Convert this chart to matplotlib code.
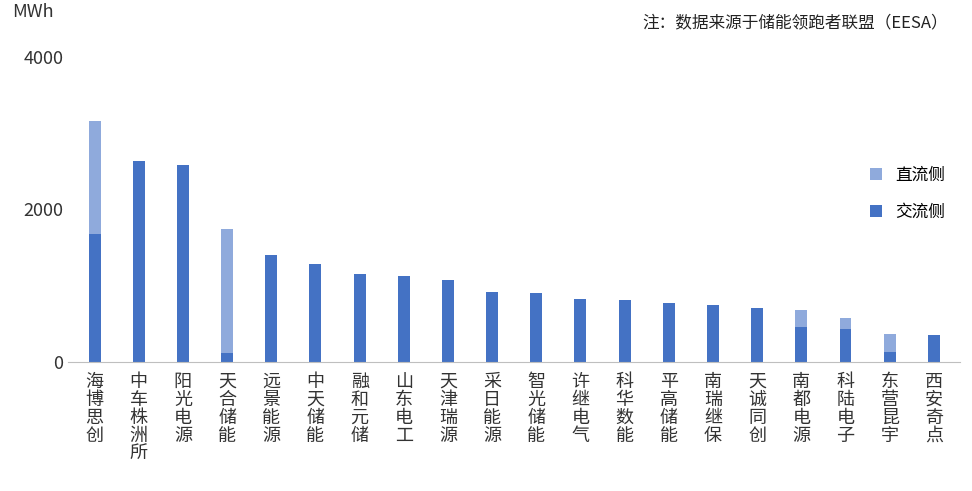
import matplotlib

matplotlib.use("Agg")
import matplotlib.pyplot as plt
import numpy as np

plt.rcParams["font.family"] = ["Noto Sans CJK SC", "DejaVu Sans"]

companies = ["海博思创", "中车株洲所", "阳光电源", "天合储能", "远景能源", "中天储能", "融和元储",
             "山东电工", "天津瑞源", "采日能源", "智光储能", "许继电气", "科华数能", "平高储能",
             "南瑞继保", "天诚同创", "南都电源", "科陆电子", "东营昆宇", "西安奇点"]
ac = [1671, 2632, 2579, 118, 1408, 1289, 1158, 1132, 1079, 921, 908, 829, 816, 776,
      750, 711, 461, 434, 132, 355]
dc = [1487, 0, 0, 1619, 0, 0, 0, 0, 0, 0, 0, 0, 0, 0, 0, 0, 223, 145, 236, 0]

fig = plt.figure(figsize=(9.72, 4.91), dpi=100)
ax = fig.add_axes([0.07, 0.263, 0.918, 0.621])

x = np.arange(len(companies))
ax.bar(x, ac, width=0.27, color="#4472C4", label="交流侧")
ax.bar(x, dc, width=0.27, bottom=ac, color="#8FAADC", label="直流侧")

ax.set_ylim(0, 4000)
ax.set_xlim(-0.6, len(companies) - 0.4)
ax.set_yticks([0, 2000, 4000])
ax.set_xticks(x)
ax.set_xticklabels(["\n".join(c) for c in companies], fontsize=13, linespacing=1.0)
ax.tick_params(axis="both", length=0, labelsize=13, colors="#333333")
ax.tick_params(axis="x", pad=8)
for s in ["top", "right", "left"]:
    ax.spines[s].set_visible(False)
ax.spines["bottom"].set_color("#BFBFBF")

handles, labels = ax.get_legend_handles_labels()
ax.legend(handles[::-1], labels[::-1], loc="center right", bbox_to_anchor=(1.0, 0.55),
          frameon=False, fontsize=12, handlelength=0.7, handleheight=0.7, labelspacing=1.2)

fig.text(0.012, 0.965, "MWh", fontsize=13, color="#333333")
fig.text(0.975, 0.945, "注：数据来源于储能领跑者联盟（EESA）", fontsize=12, ha="right", color="#222222")

fig.savefig("out.png", dpi=100)
